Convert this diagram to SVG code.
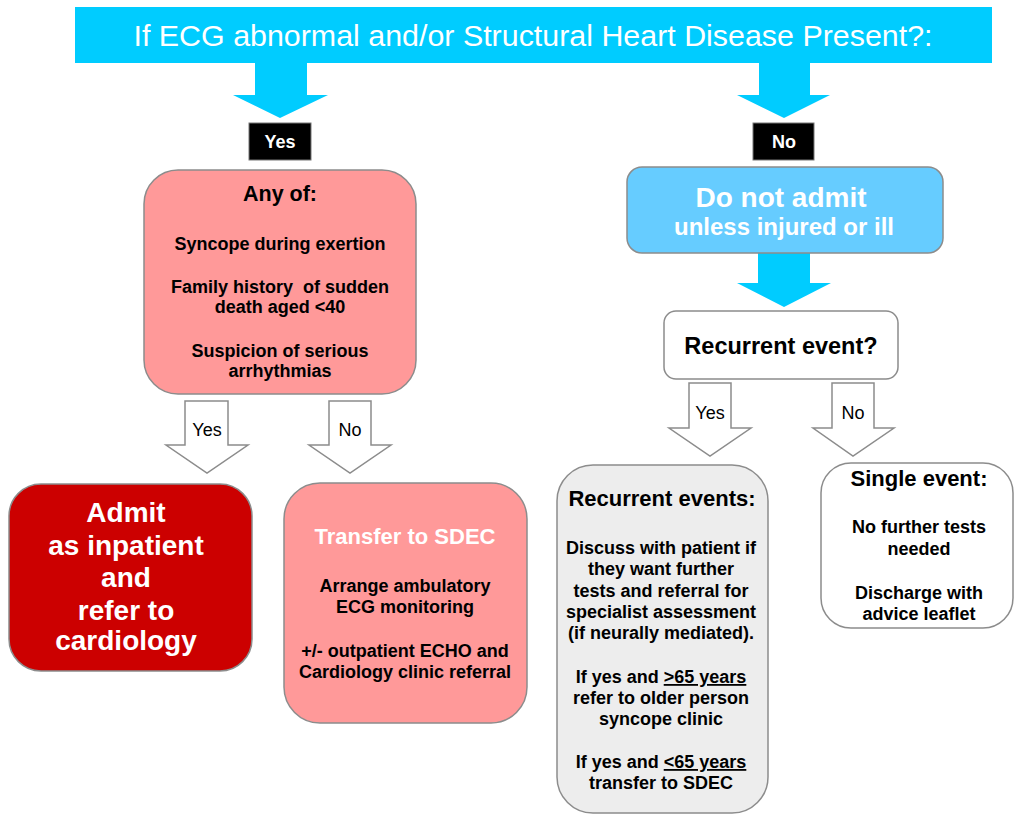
<svg xmlns="http://www.w3.org/2000/svg" width="1014" height="815" viewBox="0 0 1014 815">
<style>
text{font-family:"Liberation Sans",Arial,sans-serif;text-anchor:middle}
.b{font-weight:bold}
.body{font-size:18px;font-weight:bold;fill:#000}
.box{stroke:#8c8c8c;stroke-width:1.5}
.blue{fill:#00CCFF}
.hollow{fill:#fff;stroke:#8c8c8c;stroke-width:1.5}
.lbl{font-size:18px;fill:#000}
.tag{fill:#000;stroke:#777;stroke-width:1}
.tagt{font-size:18px;font-weight:bold;fill:#fff}
</style>
<rect width="1014" height="815" fill="#fff"/>

<g id="connectors">
  <polygon class="blue" points="255,62 307,62 307,95 328,95 280,118 233,95 255,95"/>
  <polygon class="blue" points="759,62 810,62 810,95 830,95 784,118 737,95 759,95"/>
  <polygon class="blue" points="758,252 810,252 810,283 831,283 784,307 737,283 758,283"/>
  <g id="yes-tag"><rect class="tag" x="249" y="123" width="62" height="37"/><text class="tagt" x="280" y="148">Yes</text></g>
  <g id="no-tag"><rect class="tag" x="753" y="123" width="61" height="37"/><text class="tagt" x="784" y="148">No</text></g>
  <g id="arrow-yes-left"><polygon class="hollow" points="185,401 228,401 228,445 248,445 207,473 166,445 185,445"/><text class="lbl" x="207" y="436">Yes</text></g>
  <g id="arrow-no-left"><polygon class="hollow" points="329,401 371,401 371,445 391,445 350,473 309,445 329,445"/><text class="lbl" x="350" y="436">No</text></g>
  <g id="arrow-yes-right"><polygon class="hollow" points="689,383 731,383 731,428 751,428 710,456 669,428 689,428"/><text class="lbl" x="710" y="419">Yes</text></g>
  <g id="arrow-no-right"><polygon class="hollow" points="832,383 874,383 874,428 894,428 853,456 813,428 832,428"/><text class="lbl" x="853" y="419">No</text></g>
</g>

<g id="banner">
  <rect x="75" y="7" width="917" height="56" fill="#00CCFF"/>
  <text x="533" y="46" font-size="30.4" fill="#fff">If ECG abnormal and/or Structural Heart Disease Present?:</text>
</g>

<g id="any-of">
  <rect class="box" x="144" y="170" width="272" height="224" rx="34" fill="#FF9999"/>
  <text class="b" x="280" y="201" font-size="21.5">Any of:</text>
  <text class="body" x="280" y="250">Syncope during exertion</text>
  <text class="body" x="280" y="293" style="white-space:pre">Family history  of sudden</text>
  <text class="body" x="280" y="313">death aged &lt;40</text>
  <text class="body" x="280" y="357">Suspicion of serious</text>
  <text class="body" x="280" y="377">arrhythmias</text>
</g>

<g id="admit">
  <rect class="box" x="9" y="484" width="243" height="187" rx="32" fill="#CC0000"/>
  <g class="b" font-size="28" fill="#fff">
    <text x="126" y="522">Admit</text>
    <text x="126" y="555">as inpatient</text>
    <text x="126" y="587">and</text>
    <text x="126" y="620">refer to</text>
    <text x="126" y="650">cardiology</text>
  </g>
</g>

<g id="sdec">
  <rect class="box" x="284" y="483" width="243" height="240" rx="36" fill="#FF9999"/>
  <text class="b" x="405" y="544" font-size="22" fill="#fff">Transfer to SDEC</text>
  <text class="body" x="405" y="592">Arrange ambulatory</text>
  <text class="body" x="405" y="613">ECG monitoring</text>
  <text class="body" x="405" y="657">+/- outpatient ECHO and</text>
  <text class="body" x="405" y="678">Cardiology clinic referral</text>
</g>

<g id="do-not-admit">
  <rect class="box" x="627" y="167" width="316" height="86" rx="15" fill="#66CCFF"/>
  <text class="b" x="781" y="207" font-size="28" fill="#fff">Do not admit</text>
  <text class="b" x="784" y="235" font-size="24" fill="#fff">unless injured or ill</text>
</g>

<g id="recurrent-q">
  <rect class="box" x="664" y="311" width="234" height="68" rx="12" fill="#fff"/>
  <text class="b" x="781" y="354" font-size="23.5">Recurrent event?</text>
</g>

<g id="recurrent">
  <rect class="box" x="557" y="465" width="211" height="348" rx="36" fill="#EDEDED"/>
  <text class="b" x="662" y="506" font-size="22">Recurrent events:</text>
  <text class="body" x="661" y="554">Discuss with patient if</text>
  <text class="body" x="661" y="575">they want further</text>
  <text class="body" x="661" y="597">tests and referral for</text>
  <text class="body" x="661" y="618">specialist assessment</text>
  <text class="body" x="661" y="639">(if neurally mediated).</text>
  <text class="body" x="661" y="683">If yes and <tspan text-decoration="underline">&gt;65 years</tspan></text>
  <text class="body" x="661" y="704">refer to older person</text>
  <text class="body" x="661" y="725">syncope clinic</text>
  <text class="body" x="661" y="768">If yes and <tspan text-decoration="underline">&lt;65 years</tspan></text>
  <text class="body" x="661" y="789">transfer to SDEC</text>
</g>

<g id="single">
  <rect class="box" x="821" y="463" width="192" height="165" rx="30" fill="#fff"/>
  <text class="b" x="919" y="486" font-size="22">Single event:</text>
  <text class="body" x="919" y="533">No further tests</text>
  <text class="body" x="919" y="555">needed</text>
  <text class="body" x="919" y="599">Discharge with</text>
  <text class="body" x="919" y="620">advice leaflet</text>
</g>
</svg>
